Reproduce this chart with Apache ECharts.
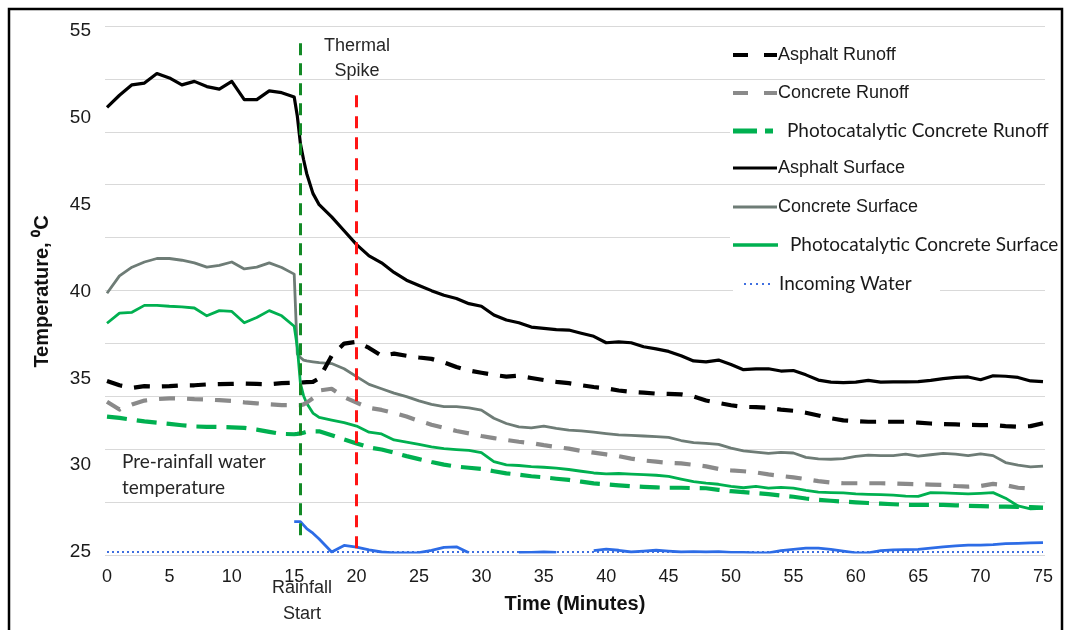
<!DOCTYPE html>
<html>
<head>
<meta charset="utf-8">
<script src="https://cdn.jsdelivr.net/npm/echarts@6/dist/echarts.min.js"></script>
<style>
  html, body { margin: 0; padding: 0; background: #fff; }
  #chart { width: 1069px; height: 630px; }
</style>
</head>
<body>
<div id="chart"></div>
<script>
// ---- data (minutes, °C) ----
const times = [0,1,2,3,4,5,6,7,8,9,10,11,12,13,14,15,15.25,15.5,15.75,16,16.5,
  17,18,19,20,21,22,23,24,25,26,27,28,29,30,31,32,33,34,35,36,37,38,39,40,
  41,42,43,44,45,46,47,48,49,50,51,52,53,54,55,56,57,58,59,60,
  61,62,63,64,65,66,67,68,69,70,71,72,73,74,75];

const asphaltRunoff = [34.85,34.6,34.45,34.55,34.52,34.55,34.6,34.6,34.65,34.67,34.68,34.7,34.68,34.66,34.72,34.75,
  34.75,34.75,34.77,34.78,34.8,
  35.0,36.3,37.0,37.1,36.75,36.3,36.42,36.3,36.2,36.12,35.92,35.65,35.45,35.32,35.2,35.1,35.15,35.02,34.9,34.8,
  34.72,34.6,34.5,34.42,34.3,34.22,34.18,34.12,34.1,34.08,33.95,33.72,33.58,33.45,33.36,33.34,33.3,33.2,33.13,33.02,
  32.86,32.7,32.58,32.54,32.5,32.5,32.5,32.5,32.45,32.4,32.37,32.35,32.32,32.31,32.31,32.25,32.21,32.25,32.41];

const concreteRunoff = [33.65,33.2,33.5,33.72,33.8,33.85,33.84,33.8,33.78,33.74,33.7,33.62,33.56,33.5,33.46,33.46,
  33.46,33.46,33.5,33.6,33.85,
  34.3,34.4,33.92,33.6,33.3,33.18,33.0,32.8,32.55,32.33,32.15,31.97,31.83,31.68,31.56,31.45,31.35,31.27,31.15,31.05,
  30.95,30.82,30.72,30.62,30.52,30.38,30.27,30.2,30.13,30.1,30.02,29.93,29.78,29.7,29.65,29.58,29.47,29.38,29.3,29.2,
  29.08,29.0,28.96,28.96,28.96,28.96,28.95,28.92,28.9,28.88,28.86,28.8,28.76,28.8,28.92,28.85,28.7,28.65,null];

const photoRunoff = [32.8,32.72,32.62,32.52,32.45,32.38,32.3,32.23,32.21,32.2,32.18,32.15,32.05,31.92,31.8,31.78,
  31.8,31.83,31.87,31.92,31.95,
  31.95,31.72,31.48,31.25,31.02,30.9,30.72,30.52,30.35,30.18,30.03,29.92,29.85,29.78,29.65,29.53,29.45,29.36,29.3,29.22,
  29.15,29.05,28.95,28.9,28.84,28.79,28.75,28.72,28.7,28.7,28.68,28.67,28.58,28.5,28.45,28.39,28.33,28.25,28.18,28.08,
  28.0,27.95,27.9,27.86,27.82,27.78,27.75,27.72,27.71,27.71,27.71,27.69,27.66,27.64,27.62,27.61,27.6,27.58,27.55];

const asphaltSurface = [50.6,51.3,51.9,52.0,52.55,52.3,51.9,52.1,51.8,51.65,52.1,51.05,51.05,51.55,51.45,51.2,
  50.1,48.5,47.6,46.8,45.65,
  45.0,44.3,43.5,42.7,42.05,41.65,41.1,40.65,40.35,40.05,39.78,39.6,39.3,39.15,38.65,38.36,38.2,37.95,37.88,37.8,
  37.78,37.6,37.42,37.05,37.1,37.05,36.82,36.7,36.55,36.3,36.0,35.95,36.05,35.8,35.5,35.55,35.55,35.42,35.45,35.2,
  34.9,34.78,34.75,34.78,34.88,34.78,34.8,34.8,34.81,34.88,34.98,35.05,35.08,34.92,35.15,35.12,35.05,34.85,34.81];

const concreteSurface = [39.9,40.9,41.4,41.7,41.9,41.9,41.8,41.65,41.4,41.5,41.7,41.3,41.4,41.65,41.38,41.0,
  36.4,36.2,36.05,36.0,35.95,
  35.9,35.85,35.55,35.1,34.65,34.4,34.15,33.95,33.7,33.5,33.37,33.37,33.3,33.17,32.7,32.4,32.2,32.15,32.25,32.12,
  32.02,31.98,31.9,31.82,31.75,31.72,31.68,31.64,31.6,31.42,31.3,31.25,31.2,30.98,30.82,30.75,30.68,30.74,30.7,30.45,
  30.36,30.34,30.38,30.5,30.58,30.55,30.55,30.64,30.52,30.6,30.68,30.64,30.55,30.65,30.55,30.15,30.0,29.9,29.95];

const photoSurface = [38.17,38.75,38.8,39.2,39.2,39.15,39.12,39.05,38.6,38.9,38.85,38.2,38.5,38.9,38.6,38.0,
  36.8,34.7,34.0,33.56,33.0,
  32.75,32.6,32.45,32.25,31.9,31.8,31.45,31.33,31.2,31.05,30.95,30.9,30.85,30.72,30.2,30.02,29.98,29.92,29.88,29.83,
  29.75,29.65,29.55,29.5,29.52,29.48,29.45,29.42,29.35,29.2,29.05,28.96,28.9,28.78,28.7,28.78,28.68,28.72,28.68,28.55,
  28.45,28.42,28.4,28.35,28.32,28.3,28.27,28.22,28.2,28.42,28.4,28.38,28.35,28.38,28.42,28.1,27.65,27.48,27.52];

const measuredWater = [null,null,null,null,null,null,null,null,null,null,null,null,null,null,null,26.75,
  26.75,26.75,26.55,26.35,26.08,
  25.75,25.0,25.38,25.28,25.12,25.0,24.95,24.95,24.96,25.1,25.27,25.3,24.95,null,null,null,24.97,24.98,25.0,24.98,
  null,null,25.08,25.16,25.1,25.0,25.05,25.1,25.05,25.0,25.02,25.0,25.02,24.98,24.98,24.95,24.95,25.08,25.15,25.22,
  25.22,25.15,25.05,24.95,24.95,25.08,25.12,25.14,25.15,25.22,25.3,25.35,25.4,25.4,25.42,25.48,25.5,25.52,25.54];

const incomingTimes = [0, 75];
const incomingWater = [25, 25];

const seriesNames = ['Asphalt Runoff','Concrete Runoff','Photocatalytic Concrete Runoff',
  'Asphalt Surface','Concrete Surface','Photocatalytic Concrete Surface','Incoming Water'];

const xTicks = [0,5,10,15,20,25,30,35,40,45,50,55,60,65,70,75];
const yTicks = [25,30,35,40,45,50,55];

// annotation lines: [time, top temp, bottom temp]
const rainfallLine = [15.5, 54.3, 25.7];
const spikeLine = [20, 51.3, 25.0];

// ---- chart ----
const pair = (arr, ts) => (ts || times).map((t, i) => [t, arr[i] == null ? '-' : arr[i]]);

const sansA = '"Liberation Sans", Arial, sans-serif';
const sansC = 'Lato, "Open Sans", sans-serif';

function mkLine(name, data, color, width, type, z) {
  return {
    name: name, type: 'line', data: data, xAxisIndex: 0, yAxisIndex: 0,
    showSymbol: false, symbol: 'none', connectNulls: false, z: z || 2,
    lineStyle: { color: color, width: width, type: type || 'solid', cap: 'butt', join: 'round' },
    itemStyle: { color: color }, animation: false
  };
}

const series = [
  mkLine(seriesNames[3], pair(asphaltSurface), '#000000', 3.2, 'solid', 3),
  mkLine(seriesNames[4], pair(concreteSurface), '#6e7c76', 2.8, 'solid', 3),
  mkLine(seriesNames[5], pair(photoSurface), '#00b050', 2.8, 'solid', 3),
  mkLine(seriesNames[0], pair(asphaltRunoff), '#000000', 4.2, [16, 12], 4),
  mkLine(seriesNames[1], pair(concreteRunoff), '#8a8a8a', 4.2, [16, 12], 4),
  mkLine(seriesNames[2], pair(photoRunoff), '#00b050', 4.2, [20, 10], 4),
  mkLine(seriesNames[6], pair(incomingWater, incomingTimes), '#3f6fe0', 2, [2, 3], 2),
  mkLine('Measured Water', pair(measuredWater), '#2d6ce6', 2.8, 'solid', 3)
];

series[0].markLine = {
  silent: true, symbol: 'none', animation: false,
  label: { show: false },
  data: [
    [{ coord: [rainfallLine[0], rainfallLine[1]], lineStyle: { color: '#138a26', width: 3, type: [12, 8] } },
     { coord: [rainfallLine[0], rainfallLine[2]] }],
    [{ coord: [spikeLine[0], spikeLine[1]], lineStyle: { color: '#ff1414', width: 3, type: [12, 9] } },
     { coord: [spikeLine[0], spikeLine[2]] }]
  ]
};

const legendRows = [
  { y: 55, x1: 733, x2: 777, color: '#000', w: 4, dash: [15, 16], tx: 778, font: sansA, fs: 18 },
  { y: 93, x1: 733, x2: 777, color: '#8a8a8a', w: 4, dash: [15, 16], tx: 778, font: sansA, fs: 18 },
  { y: 131, x1: 733, x2: 773, color: '#00b050', w: 5, dash: [24, 8], tx: 787, font: sansC, fs: 19 },
  { y: 168, x1: 733, x2: 777, color: '#000', w: 3, dash: null, tx: 778, font: sansA, fs: 18 },
  { y: 207, x1: 733, x2: 777, color: '#6e7c76', w: 3, dash: null, tx: 778, font: sansA, fs: 18 },
  { y: 245, x1: 733, x2: 778, color: '#00b050', w: 3.5, dash: null, tx: 790, font: sansC, fs: 19 },
  { y: 284, x1: 744, x2: 773, color: '#3f6fe0', w: 2, dash: [2, 4], tx: 779, font: sansC, fs: 19 }
];
const legendOrder = [0, 1, 2, 3, 4, 5, 6];

const graphics = [];
// white masks behind some legend rows (they hide the grid lines)
graphics.push({ type: 'rect', z: 50, silent: true, shape: { x: 730, y: 121, width: 320, height: 20 }, style: { fill: '#fff' } });
graphics.push({ type: 'rect', z: 50, silent: true, shape: { x: 730, y: 234, width: 330, height: 22 }, style: { fill: '#fff' } });
graphics.push({ type: 'rect', z: 50, silent: true, shape: { x: 733, y: 273, width: 207, height: 22 }, style: { fill: '#fff' } });
legendRows.forEach((r, i) => {
  graphics.push({ type: 'line', z: 60, silent: true, shape: { x1: r.x1, y1: r.y, x2: r.x2, y2: r.y },
    style: { stroke: r.color, lineWidth: r.w, lineDash: r.dash || null } });
  graphics.push({ type: 'text', z: 60, silent: true, style: { text: seriesNames[legendOrder[i]], x: r.tx, y: r.y,
    font: r.fs + 'px ' + r.font, fill: '#1a1a1a', verticalAlign: 'middle', textAlign: 'left' } });
});
// annotations
const annoText = (t, x, y, font, align) => ({ type: 'text', z: 60, silent: true,
  style: { text: t, x: x, y: y, font: font, fill: '#262626', verticalAlign: 'middle', textAlign: align || 'center' } });
graphics.push(annoText('Thermal', 357, 46, '18px ' + sansA));
graphics.push(annoText('Spike', 357, 71, '18px ' + sansA));
graphics.push(annoText('Rainfall', 302, 588, '18px ' + sansA));
graphics.push(annoText('Start', 302, 614, '18px ' + sansA));
graphics.push(annoText('Pre-rainfall water', 122, 462, '19px ' + sansC, 'left'));
graphics.push(annoText('temperature', 122, 488, '19px ' + sansC, 'left'));
// frame
graphics.push({ type: 'polyline', z: 70, silent: true, shape: { points: [[9, 640], [9, 9], [1062, 9], [1062, 640]] },
  style: { stroke: '#000', lineWidth: 2.5, fill: null } });

const chart = echarts.init(document.getElementById('chart'), null, { renderer: 'canvas' });
chart.setOption({
  animation: false,
  backgroundColor: '#ffffff',
  grid: [
    { left: 107, right: 26, top: 31, bottom: 78 },
    { left: 105, right: 24, top: 26, bottom: 75, z: 0 }
  ],
  xAxis: [
    {
      type: 'value', gridIndex: 0, min: 0, max: 75, interval: 5,
      axisLine: { show: false }, axisTick: { show: false }, splitLine: { show: false },
      axisLabel: { margin: 16, fontSize: 18, color: '#1a1a1a', fontFamily: sansA,
        customValues: xTicks },
      name: 'Time (Minutes)', nameLocation: 'middle', nameGap: 42,
      nameTextStyle: { fontSize: 20, fontWeight: 'bold', color: '#111', fontFamily: sansA }
    },
    { type: 'value', gridIndex: 1, min: 0, max: 1, show: false }
  ],
  yAxis: [
    {
      type: 'value', gridIndex: 0, min: 25, max: 55, interval: 5,
      axisLine: { show: false }, axisTick: { show: false }, splitLine: { show: false },
      axisLabel: { margin: 16, fontSize: 19, color: '#1a1a1a', fontFamily: sansA },
      name: 'Temperature, \u2070C', nameLocation: 'middle', nameGap: 55, nameRotate: 90,
      nameTextStyle: { fontSize: 20, fontWeight: 'bold', color: '#111', fontFamily: sansA }
    },
    {
      type: 'value', gridIndex: 1, min: 0, max: 10, interval: 1,
      axisLine: { show: false }, axisTick: { show: false }, axisLabel: { show: false },
      splitLine: { show: true, lineStyle: { color: '#d9d9d9', width: 1.2 } }
    }
  ],
  series: series,
  graphic: graphics
});
</script>
</body>
</html>
